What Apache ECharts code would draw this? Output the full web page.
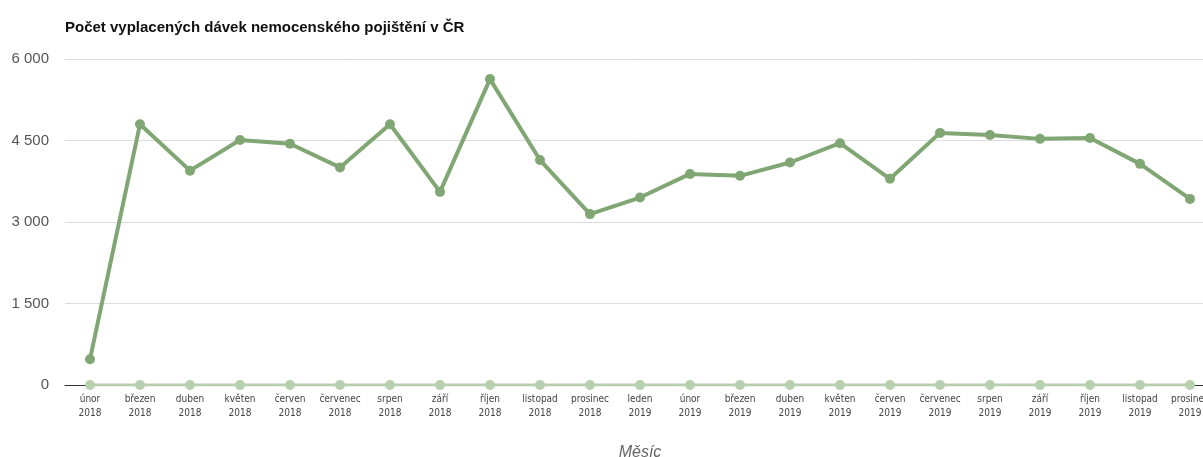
<!DOCTYPE html>
<html>
<head>
    <meta charset="utf-8">
    <title>ECharts</title>
    <script src="https://cdn.jsdelivr.net/npm/echarts@6/dist/echarts.min.js"></script>
    <style>
        html, body { margin: 0; padding: 0; background: #fff; }
    </style>
</head>
<body>
    <div id="main" style="width: 1203px;height:457px;"></div>
    <script type="text/javascript">
        // kategorie (mesice)
        var months = [
            'únor\n2018', 'březen\n2018', 'duben\n2018', 'květen\n2018', 'červen\n2018',
            'červenec\n2018', 'srpen\n2018', 'září\n2018', 'říjen\n2018', 'listopad\n2018',
            'prosinec\n2018', 'leden\n2019', 'únor\n2019', 'březen\n2019', 'duben\n2019',
            'květen\n2019', 'červen\n2019', 'červenec\n2019', 'srpen\n2019', 'září\n2019',
            'říjen\n2019', 'listopad\n2019', 'prosinec\n2019'
        ];
        // pocet vyplacenych davek
        var davky = [
            475, 4800, 3945, 4510, 4440, 4005, 4800, 3555, 5630, 4140,
            3145, 3450, 3885, 3850, 4095, 4450, 3795, 4640, 4600, 4530,
            4545, 4070, 3425
        ];
        // druha rada (nulova)
        var nulova = [
            0, 0, 0, 0, 0, 0, 0, 0, 0, 0, 0, 0, 0, 0, 0, 0, 0, 0, 0, 0, 0, 0, 0
        ];
        var yTicks = [0, 1500, 3000, 4500, 6000];

        var myChart = echarts.init(document.getElementById('main'));

        var option = {
            animation: false,
            title: {
                text: 'Počet vyplacených dávek nemocenského pojištění v ČR',
                left: 60,
                top: 15,
                textStyle: {
                    fontFamily: 'Liberation Sans',
                    fontSize: 15,
                    fontWeight: 'bold',
                    color: '#111'
                }
            },
            grid: {
                left: 65,
                top: 59,
                width: 1150,
                height: 326,
                containLabel: false,
                outerBoundsMode: 'none'
            },
            xAxis: {
                type: 'category',
                data: months,
                boundaryGap: true,
                name: 'Měsíc',
                nameLocation: 'middle',
                nameGap: 60,
                nameTextStyle: {
                    fontFamily: 'Liberation Sans',
                    fontSize: 16,
                    fontStyle: 'italic',
                    color: '#666'
                },
                axisLine: { show: true, lineStyle: { color: '#333', width: 1 } },
                axisTick: { show: false },
                axisLabel: {
                    interval: 0,
                    margin: 7,
                    fontFamily: '"DejaVu Sans Condensed", "Liberation Sans"',
                    fontSize: 10,
                    lineHeight: 14,
                    color: '#444'
                }
            },
            yAxis: {
                type: 'value',
                min: yTicks[0],
                max: yTicks[yTicks.length - 1],
                interval: 1500,
                axisLine: { show: false },
                axisTick: { show: false },
                splitLine: { lineStyle: { color: '#dcdcdc', width: 1 } },
                axisLabel: {
                    margin: 16,
                    fontFamily: 'Liberation Sans',
                    fontSize: 15,
                    color: '#555',
                    formatter: function (v) {
                        return String(v).replace(/\B(?=(\d{3})+(?!\d))/g, ' ');
                    }
                }
            },
            series: [{
                name: 'nula',
                type: 'line',
                data: nulova,
                symbol: 'circle',
                symbolSize: 10,
                itemStyle: { color: '#b8cfad' },
                lineStyle: { color: '#b8cfad', width: 3 },
                z: 3
            }, {
                name: 'Počet dávek',
                type: 'line',
                data: davky,
                symbol: 'circle',
                symbolSize: 10,
                itemStyle: { color: '#80a673' },
                lineStyle: { color: '#80a673', width: 4 },
                z: 4
            }]
        };

        myChart.setOption(option);
    </script>
</body>
</html>
